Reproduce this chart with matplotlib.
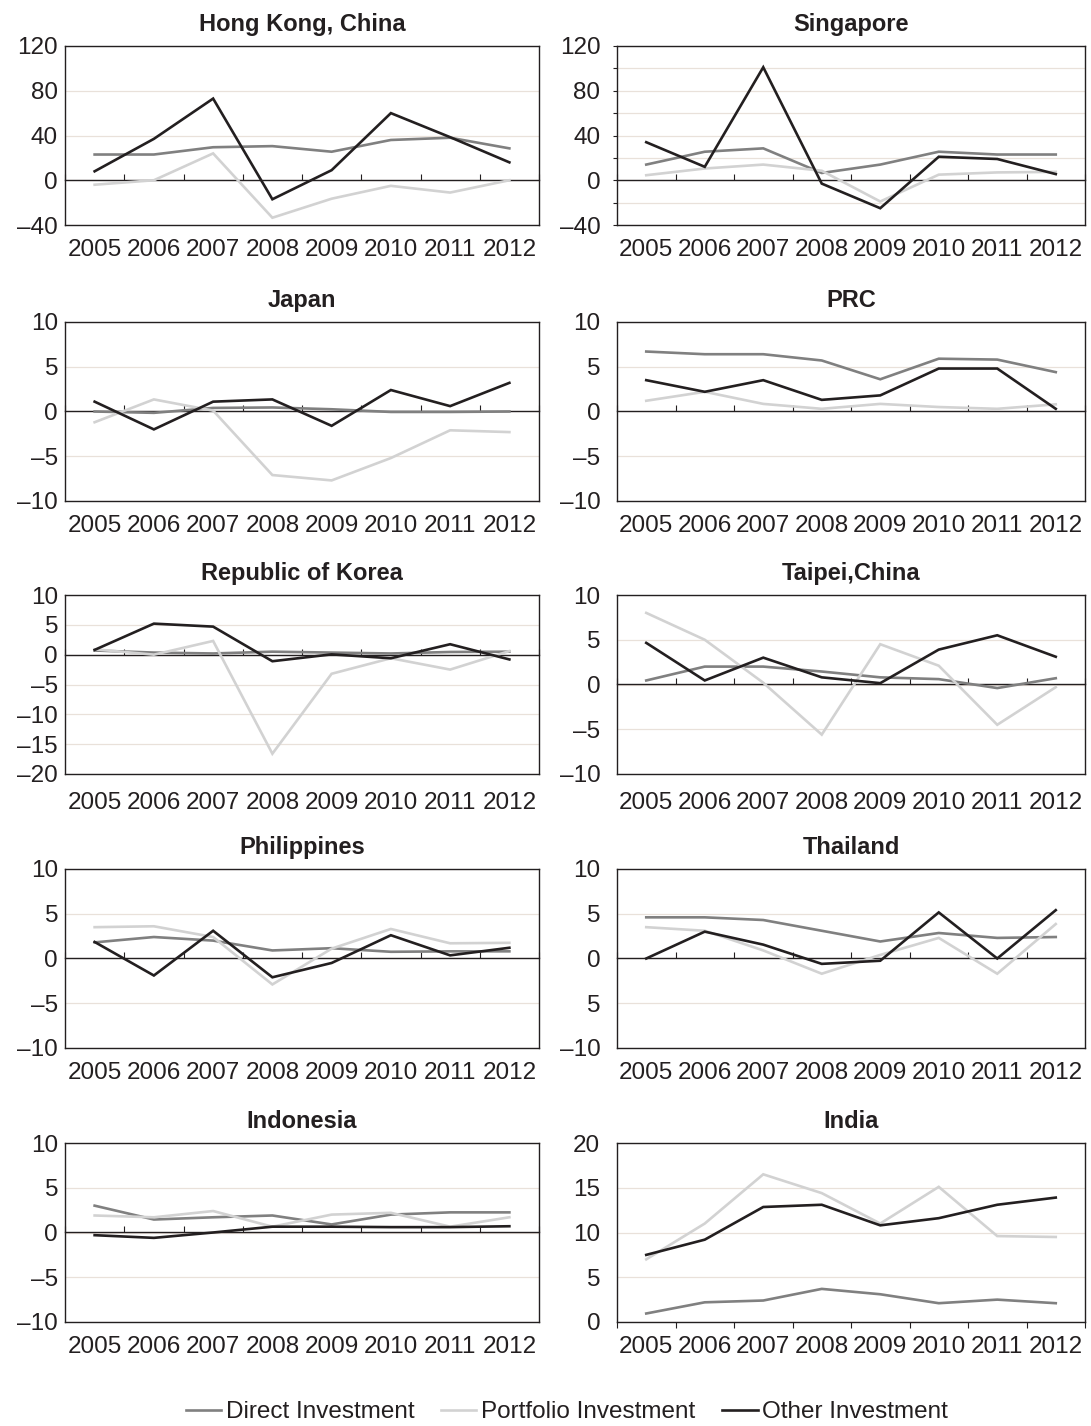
import matplotlib
matplotlib.use("Agg")
import matplotlib.pyplot as plt
import numpy as np

plt.rcParams['font.family'] = ['Liberation Sans', 'DejaVu Sans']

years = ['2005', '2006', '2007', '2008', '2009', '2010', '2011', '2012']
series_names = ['Direct Investment', 'Portfolio Investment', 'Other Investment']

hk_direct = [23, 23, 29.5, 30.5, 25.5, 36, 38, 28.5]
hk_portfolio = [-4, 0, 24, -33.5, -16.5, -5, -11, 0]
hk_other = [8, 37, 73, -17, 9, 60, 38.5, 16]

sg_direct = [14, 25.5, 28.5, 6.5, 14, 25.5, 23, 23]
sg_portfolio = [4.5, 10.5, 14, 8.5, -19, 5, 7, 7.5]
sg_other = [34, 12, 101, -3, -25, 21, 19, 5.5]

jp_direct = [0, -0.15, 0.4, 0.45, 0.25, -0.05, -0.05, 0]
jp_portfolio = [-1.2, 1.35, 0.1, -7.1, -7.7, -5.2, -2.1, -2.3]
jp_other = [1.1, -2.0, 1.1, 1.35, -1.6, 2.4, 0.6, 3.2]

prc_direct = [6.7, 6.4, 6.4, 5.7, 3.6, 5.9, 5.8, 4.4]
prc_portfolio = [1.2, 2.2, 0.85, 0.3, 0.85, 0.5, 0.3, 0.8]
prc_other = [3.5, 2.2, 3.5, 1.3, 1.8, 4.8, 4.8, 0.3]

kr_direct = [0.7, 0.35, 0.2, 0.5, 0.35, 0.2, 0.45, 0.5]
kr_portfolio = [0.9, 0, 2.3, -16.6, -3.2, -0.6, -2.5, 0.6]
kr_other = [0.8, 5.2, 4.7, -1.1, 0.05, -0.6, 1.75, -0.8]

tw_direct = [0.45, 2.0, 2.0, 1.45, 0.8, 0.6, -0.4, 0.7]
tw_portfolio = [8.0, 5.0, 0.2, -5.6, 4.5, 2.1, -4.5, -0.3]
tw_other = [4.65, 0.45, 3.0, 0.8, 0.15, 3.9, 5.5, 3.1]

ph_direct = [1.8, 2.4, 2.0, 0.9, 1.15, 0.75, 0.8, 0.8]
ph_portfolio = [3.5, 3.6, 2.4, -2.9, 1.1, 3.3, 1.7, 1.75]
ph_other = [1.85, -1.9, 3.1, -2.1, -0.5, 2.6, 0.35, 1.2]

th_direct = [4.6, 4.6, 4.3, 3.1, 1.9, 2.85, 2.3, 2.4]
th_portfolio = [3.5, 3.1, 0.9, -1.7, 0.4, 2.3, -1.7, 3.85]
th_other = [0, 3.0, 1.55, -0.6, -0.25, 5.15, 0, 5.4]

id_direct = [3.0, 1.45, 1.7, 1.9, 0.9, 2.0, 2.25, 2.25]
id_portfolio = [1.9, 1.7, 2.4, 0.65, 2.0, 2.2, 0.65, 1.7]
id_other = [-0.3, -0.6, 0, 0.65, 0.65, 0.6, 0.6, 0.7]

in_direct = [0.95, 2.2, 2.4, 3.7, 3.1, 2.1, 2.5, 2.1]
in_portfolio = [7.0, 11.0, 16.5, 14.4, 11.0, 15.1, 9.6, 9.5]
in_other = [7.5, 9.2, 12.85, 13.1, 10.8, 11.6, 13.1, 13.9]

# y tick values and their labels, per panel
yt_big = [-40, 0, 40, 80, 120]
yl_big = ['\u201340', '0', '40', '80', '120']
yt_sg = [-40, -20, 0, 20, 40, 60, 80, 100, 120]
yl_sg = ['\u201340', '', '0', '', '40', '', '80', '', '120']
yt_10 = [-10, -5, 0, 5, 10]
yl_10 = ['\u201310', '\u20135', '0', '5', '10']
yl_th = ['\u201310', '5', '0', '5', '10']
yt_kr = [-20, -15, -10, -5, 0, 5, 10]
yl_kr = ['\u201320', '\u201315', '\u201310', '\u20135', '0', '5', '10']
yt_in = [0, 5, 10, 15, 20]
yl_in = ['0', '5', '10', '15', '20']

panels = [
    ('Hong Kong, China', (hk_direct, hk_portfolio, hk_other), yt_big, yl_big),
    ('Singapore', (sg_direct, sg_portfolio, sg_other), yt_sg, yl_sg),
    ('Japan', (jp_direct, jp_portfolio, jp_other), yt_10, yl_10),
    ('PRC', (prc_direct, prc_portfolio, prc_other), yt_10, yl_10),
    ('Republic of Korea', (kr_direct, kr_portfolio, kr_other), yt_kr, yl_kr),
    ('Taipei,China', (tw_direct, tw_portfolio, tw_other), yt_10, yl_10),
    ('Philippines', (ph_direct, ph_portfolio, ph_other), yt_10, yl_10),
    ('Thailand', (th_direct, th_portfolio, th_other), yt_10, yl_th),
    ('Indonesia', (id_direct, id_portfolio, id_other), yt_10, yl_10),
    ('India', (in_direct, in_portfolio, in_other), yt_in, yl_in),
]

colors = ['#808080', '#d2d2d2', '#231f20']
ink = '#231f20'
grid_c = '#e9e1da'

W, H = 1091, 1426
fig = plt.figure(figsize=(W / 100, H / 100), dpi=100)

col_x = [(65, 474), (617, 468)]
row_top = [46, 322, 595, 869, 1143]
row_pad = [10, 10, 13, 10, 10]
ax_h = 179

x = np.arange(len(years)) + 0.5
bounds = np.arange(len(years) + 1)

handles = []
for i, (title, data, yt, yl) in enumerate(panels):
    r, c = divmod(i, 2)
    x0, w = col_x[c]
    ax = fig.add_axes([x0 / W, (H - row_top[r] - ax_h) / H, w / W, ax_h / H])

    for vals, col in zip(data, colors):
        ln, = ax.plot(x, vals, color=col, lw=1.9, solid_joinstyle='miter')
        if i == 0:
            handles.append(ln)

    ax.set_xlim(0, len(years))
    ax.set_ylim(yt[0], yt[-1])
    ax.set_yticks(yt, yl)
    for v in yt:
        ax.axhline(v, color=grid_c, lw=0.9, zorder=0)

    ax.set_xticks(x, years)
    ax.tick_params(axis='x', length=0, labelsize=17.5, pad=row_pad[r], colors=ink)
    if c == 0:
        ax.tick_params(axis='y', length=0, labelsize=17.5, pad=5, colors=ink)
    else:
        tick_len = 3 if title == 'Singapore' else 0
        ax.tick_params(axis='y', length=tick_len, direction='out', width=0.8,
                       labelsize=17.5, pad=12 - tick_len, colors=ink)
    for sp in ax.spines.values():
        sp.set_color(ink)
        sp.set_linewidth(1.0)

    if yt[0] < 0:
        # zero line with category tick marks
        f = (0 - yt[0]) / (yt[-1] - yt[0])
        sec = ax.secondary_xaxis(f)
        sec.set_xticks(bounds)
        sec.tick_params(length=4, width=0.8, color=ink, direction='in' if f < 0.5 else 'out',
                        labelbottom=False, labeltop=False)
        for sp in sec.spines.values():
            sp.set_color(ink)
            sp.set_linewidth(1.0)
    else:
        ax.set_xticks(bounds, minor=True)
        ax.tick_params(axis='x', which='minor', length=4, width=0.8, direction='out', color=ink)

    ax.set_title(title, fontsize=17, fontweight='bold', color=ink, pad=11)

fig.legend(handles, series_names, loc='center', bbox_to_anchor=(567 / W, 1 - 1412 / H),
           ncol=3, frameon=False, fontsize=17.5, handlelength=1.45, handletextpad=0.2,
           columnspacing=1.1, labelcolor=ink)

fig.savefig('out.png', dpi=100, facecolor='white')
